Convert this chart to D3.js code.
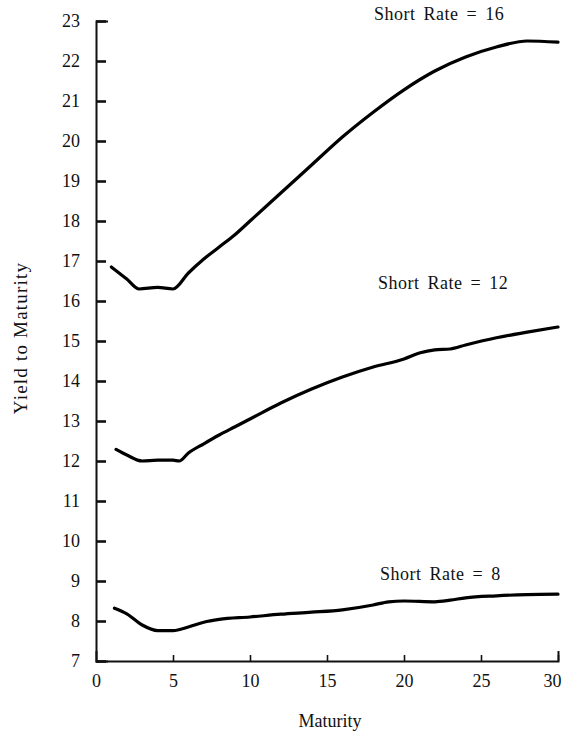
<!DOCTYPE html>
<html>
<head>
<meta charset="utf-8">
<script src="https://cdn.jsdelivr.net/npm/d3@7"></script>
<style>
  html, body { margin: 0; padding: 0; background: #fff; }
  svg text { font-family: "Liberation Serif", "Times New Roman", serif; fill: #111; }
</style>
</head>
<body>
<svg id="chart" width="563" height="736"></svg>
<script>
// ---- data ----
const maturity16 = [1, 2, 2.8, 4, 5, 6, 7, 8, 9, 10, 12, 14, 16, 18, 20, 22, 24, 26, 28, 30];
const yield16    = [16.85, 16.55, 16.3, 16.34, 16.3, 16.7, 17.05, 17.35, 17.65, 18.0, 18.7, 19.4, 20.1, 20.72, 21.28, 21.75, 22.1, 22.35, 22.5, 22.47];

const maturity12 = [1.3, 2, 3, 4, 5, 5.4, 6, 7, 8, 9, 10, 12, 14, 16, 18, 20, 21, 22, 23, 24, 26, 28, 30];
const yield12    = [12.29, 12.15, 12.0, 12.02, 12.02, 12.0, 12.2, 12.43, 12.65, 12.85, 13.05, 13.45, 13.8, 14.1, 14.35, 14.55, 14.7, 14.78, 14.8, 14.9, 15.08, 15.22, 15.35];

const maturity8  = [1.2, 2, 3, 4, 5, 6, 7, 8, 10, 12, 14, 16, 18, 19, 20, 22, 23, 24, 26, 28, 30];
const yield8     = [8.32, 8.18, 7.9, 7.76, 7.76, 7.85, 7.97, 8.04, 8.1, 8.17, 8.22, 8.28, 8.4, 8.48, 8.5, 8.48, 8.52, 8.58, 8.63, 8.66, 8.67];

const seriesLabels = ["Short Rate = 16", "Short Rate = 12", "Short Rate = 8"];
const xTicks = [0, 5, 10, 15, 20, 25, 30];
const yTicks = [7, 8, 9, 10, 11, 12, 13, 14, 15, 16, 17, 18, 19, 20, 21, 22, 23];
const xTitle = "Maturity";
const yTitle = "Yield to Maturity";

// ---- drawing ----
const svg = d3.select("#chart");
const x = d3.scaleLinear().domain([0, 30]).range([96, 558]);
const y = d3.scaleLinear().domain([7, 23]).range([661, 21]);

// Y axis: ticks point inward (right), labels on the left
const yAxis = d3.axisLeft(y).tickValues(yTicks).tickFormat(d3.format("d"))
  .tickSizeInner(-10).tickSizeOuter(-12).tickPadding(16);
const gy = svg.append("g").attr("transform", "translate(96,0)").call(yAxis);
gy.select(".domain").attr("stroke", "#111").attr("stroke-width", 2);
gy.selectAll(".tick line").attr("stroke", "#111").attr("stroke-width", 2.6);
gy.selectAll(".tick text").attr("font-size", 18).attr("fill", "#111");

// X axis: small ticks pointing up
const xAxis = d3.axisBottom(x).tickValues(xTicks).tickFormat(d3.format("d"))
  .tickSizeInner(-6).tickSizeOuter(-10).tickPadding(13);
const gx = svg.append("g").attr("transform", "translate(0,661)").call(xAxis);
gx.select(".domain").attr("stroke", "#111").attr("stroke-width", 2);
gx.selectAll(".tick line").attr("stroke", "#111").attr("stroke-width", 1.6)
  .filter(d => d === 0).attr("stroke-width", 0);
gx.selectAll(".tick text").attr("font-size", 18).attr("fill", "#111")
  .filter(d => d === 30).attr("dx", -6);

// Axis titles
svg.append("text").attr("x", 330).attr("y", 727).attr("text-anchor", "middle")
  .attr("font-size", 18).text(xTitle);
svg.append("text").attr("transform", "translate(27,338) rotate(-90)")
  .attr("text-anchor", "middle").attr("font-size", 19).attr("letter-spacing", 1.2).text(yTitle);

// Curves
const line = d3.line().x(d => x(d[0])).y(d => y(d[1])).curve(d3.curveMonotoneX);
const series = [
  d3.zip(maturity16, yield16),
  d3.zip(maturity12, yield12),
  d3.zip(maturity8, yield8)
];
svg.selectAll("path.curve").data(series).enter().append("path")
  .attr("class", "curve")
  .attr("d", line)
  .attr("fill", "none").attr("stroke", "#000").attr("stroke-width", 3.2)
  .attr("stroke-linejoin", "round").attr("stroke-linecap", "round");

// Series labels
const labelPos = [[374, 20], [378, 289], [380, 580]];
svg.selectAll("text.lbl").data(seriesLabels).enter().append("text")
  .attr("class", "lbl")
  .attr("x", (d, i) => labelPos[i][0]).attr("y", (d, i) => labelPos[i][1])
  .attr("font-size", 18).attr("letter-spacing", 0.5).attr("word-spacing", 3)
  .text(d => d);
</script>
</body>
</html>
